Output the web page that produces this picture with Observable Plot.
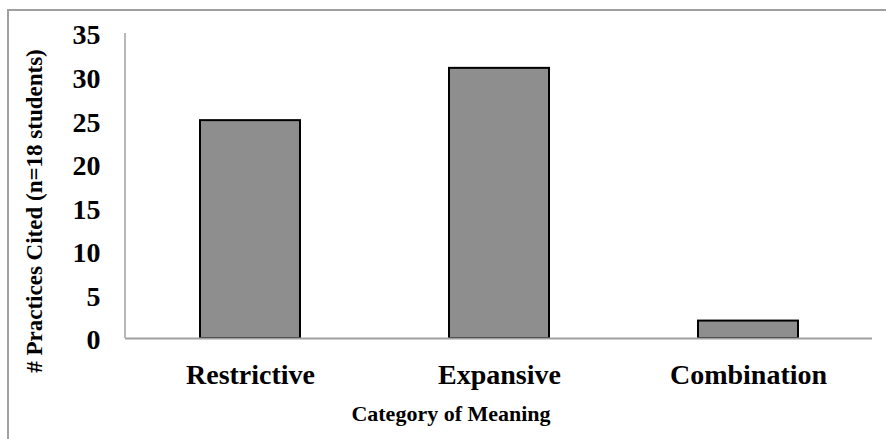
<!DOCTYPE html>
<html>
<head>
<meta charset="utf-8">
<script src="https://cdn.jsdelivr.net/npm/d3@7"></script>
<script src="https://cdn.jsdelivr.net/npm/@observablehq/plot@0.6"></script>
<style>
  body { margin: 0; background: #fff; }
  #wrap { position: relative; width: 886px; height: 439px; overflow: hidden; }
  #wrap svg { position: absolute; left: 0; top: 0; }
  #box {
    position: absolute; left: 7px; top: 9px; width: 1000px; height: 1000px;
    border-left: 2px solid #a0a0a0; border-top: 2px solid #a0a0a0; z-index: 1;
  }
</style>
</head>
<body>
<div id="wrap"><div id="box"></div></div>
<script>
// Practices cited per category of meaning
const categories = ["Restrictive", "Expansive", "Combination"];
const practices = [25, 31, 2];
const yTicks = [0, 5, 10, 15, 20, 25, 30, 35];
const xTitle = "Category of Meaning";
const yTitle = "# Practices Cited (n=18 students)";

const data = categories.map((category, i) => ({category, value: practices[i]}));
const font = "'Liberation Serif', 'Times New Roman', serif";

// vertical axis line along the left edge of the plotting frame
const leftAxisLine = (index, scales, values, dims) => {
  const line = d3.create("svg:line")
    .attr("x1", dims.marginLeft).attr("x2", dims.marginLeft)
    .attr("y1", dims.marginTop).attr("y2", dims.height - dims.marginBottom)
    .attr("stroke", "#a0a0a0").attr("stroke-width", 1.5);
  return line.node();
};

const chart = Plot.plot({
  width: 886,
  height: 439,
  marginLeft: 125,
  marginRight: 14,
  marginTop: 33,
  marginBottom: 101,
  style: {fontFamily: font, color: "#000", background: "transparent"},
  x: {domain: categories, paddingInner: 0.6, paddingOuter: 0.3, label: null},
  y: {domain: [0, 35], label: null},
  marks: [
    Plot.barY(data, {x: "category", y: "value", fill: "#8e8e8e", stroke: "#000", strokeWidth: 2}),
    Plot.ruleY([0], {stroke: "#a0a0a0", strokeWidth: 2}),
    leftAxisLine,
    Plot.axisY(yTicks, {tickSize: 0, tickPadding: 25, dy: 2, fontSize: 28, fontWeight: "bold", label: null}),
    Plot.axisX({tickSize: 0, tickPadding: 26, fontSize: 28, fontWeight: "bold", label: null}),
    Plot.text([xTitle], {
      text: d => d, frameAnchor: "bottom", textAnchor: "middle", lineAnchor: "middle",
      dx: -48, dy: 75, fontSize: 22, fontWeight: "bold"
    }),
    Plot.text([yTitle], {
      text: d => d, frameAnchor: "left", textAnchor: "middle", lineAnchor: "middle",
      rotate: -90, dx: -91, dy: 25, fontSize: 23, fontWeight: "bold"
    })
  ]
});

document.getElementById("wrap").appendChild(chart);
</script>
</body>
</html>
